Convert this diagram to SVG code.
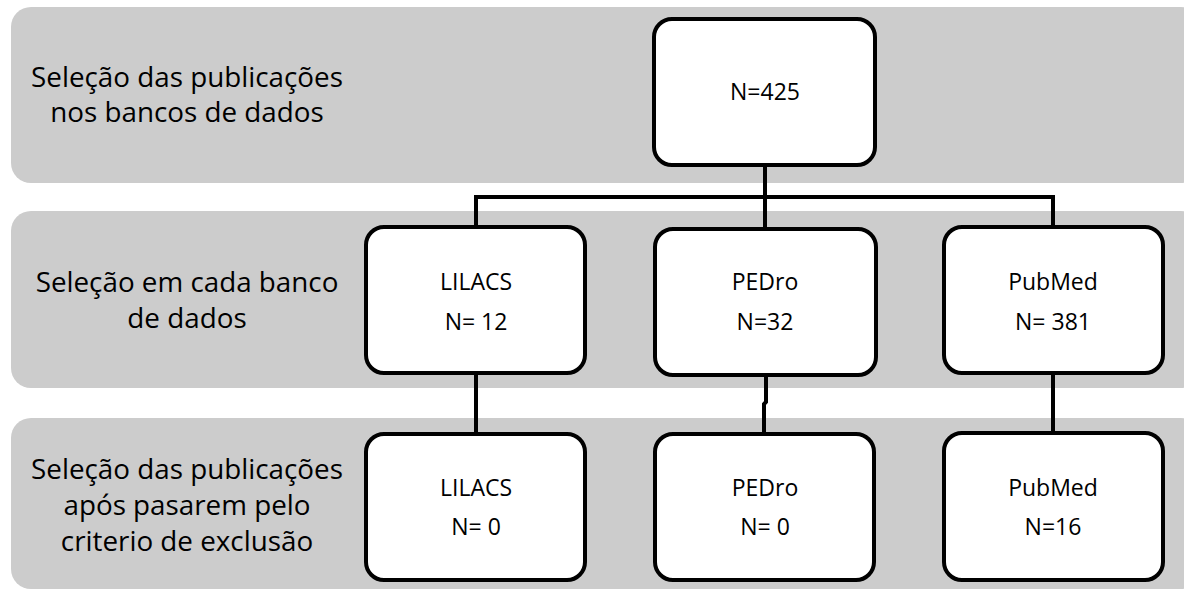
<svg xmlns="http://www.w3.org/2000/svg" width="1184" height="590" viewBox="0 0 1184 590">
<style>
.band{fill:#cccccc}
.box{fill:#ffffff;stroke:#000000;stroke-width:4}
.lbl{font-family:"Open Sans","Noto Sans",sans-serif;font-size:27.8px;fill:#000000;text-anchor:middle}
.t{font-family:"Open Sans","Noto Sans",sans-serif;font-size:23px;fill:#000000;text-anchor:middle}
.c{fill:none;stroke:#000000;stroke-width:4}
</style>
<rect width="1184" height="590" fill="#ffffff"/>
<g id="bands">
<rect class="band" x="11" y="7" width="1190" height="176" rx="20"/>
<rect class="band" x="11" y="211" width="1190" height="177" rx="20"/>
<rect class="band" x="11" y="418" width="1190" height="171" rx="20"/>
</g>
<g id="labels">
<text class="lbl" x="187" y="87">Seleção das publicações</text>
<text class="lbl" x="187" y="122">nos bancos de dados</text>
<text class="lbl" x="187" y="292">Seleção em cada banco</text>
<text class="lbl" x="187" y="328">de dados</text>
<text class="lbl" x="187" y="479">Seleção das publicações</text>
<text class="lbl" x="187" y="515">após pasarem pelo</text>
<text class="lbl" x="187" y="551">criterio de exclusão</text>
</g>
<g id="connectors">
<path class="c" d="M765 167 V227"/>
<path class="c" d="M476 227 V197 H1053 V227"/>
<path class="c" d="M476 373 V432"/>
<path class="c" d="M766 375 V402 L764 404 V432"/>
<path class="c" d="M1053 373 V431"/>
</g>
<g id="n425">
<rect class="box" x="654" y="19" width="221" height="146" rx="18"/>
<text class="t" x="765" y="100">N=425</text>
</g>
<g id="lilacs1">
<rect class="box" x="366" y="227" width="219" height="146" rx="18"/>
<text class="t" x="476" y="290">LILACS</text>
<text class="t" x="476" y="330">N= 12</text>
</g>
<g id="pedro1">
<rect class="box" x="655" y="229" width="221" height="146" rx="18"/>
<text class="t" x="765" y="290">PEDro</text>
<text class="t" x="765" y="330">N=32</text>
</g>
<g id="pubmed1">
<rect class="box" x="944" y="227" width="219" height="146" rx="18"/>
<text class="t" x="1053" y="290">PubMed</text>
<text class="t" x="1053" y="330">N= 381</text>
</g>
<g id="lilacs2">
<rect class="box" x="366" y="434" width="219" height="146" rx="18"/>
<text class="t" x="476" y="496">LILACS</text>
<text class="t" x="476" y="535">N= 0</text>
</g>
<g id="pedro2">
<rect class="box" x="655" y="434" width="219" height="146" rx="18"/>
<text class="t" x="765" y="496">PEDro</text>
<text class="t" x="765" y="535">N= 0</text>
</g>
<g id="pubmed2">
<rect class="box" x="944" y="433" width="219" height="147" rx="18"/>
<text class="t" x="1053" y="496">PubMed</text>
<text class="t" x="1053" y="535">N=16</text>
</g>
</svg>
